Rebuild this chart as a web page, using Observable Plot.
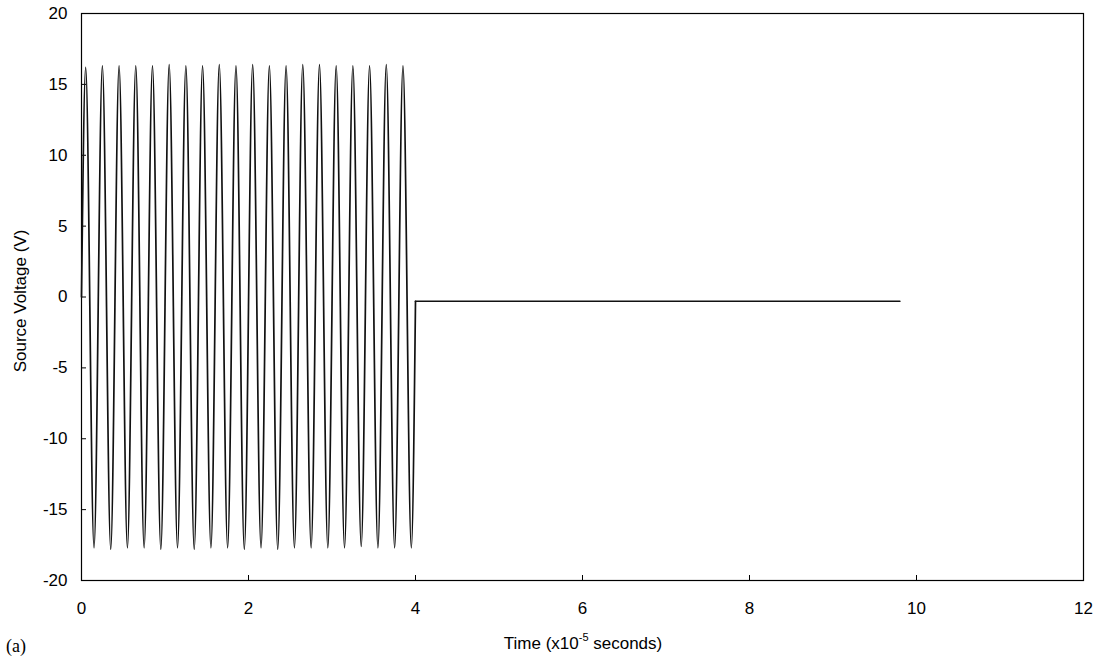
<!DOCTYPE html>
<html>
<head>
<meta charset="utf-8">
<script src="https://cdn.jsdelivr.net/npm/d3@7"></script>
<script src="https://cdn.jsdelivr.net/npm/@observablehq/plot@0.6"></script>
<style>
  body { margin: 0; background: #fff; }
  #wrap { position: relative; width: 1102px; height: 657px; font-family: "Liberation Sans", Arial, sans-serif; color: #000; }
  #xlabel { position: absolute; left: 0; width: 1166px; top: 630px; text-align: center; font-size: 17px; line-height: 17px; }
  #xlabel sup { font-size: 11px; position: relative; top: -1px; }
  #panel { position: absolute; left: 6px; top: 637px; font-family: "Liberation Serif", "Times New Roman", serif; font-size: 18px; line-height: 18px; }
</style>
</head>
<body>
<div id="wrap">
  <div id="chart"></div>
  <div id="xlabel">Time (x10<sup>-5</sup> seconds)</div>
  <div id="panel">(a)</div>
</div>
<script>
// Source voltage burst: 20 cycles of a 500 kHz sine, then the source settles near zero.
// Times in units of 1e-5 s, voltages in volts.
const peakTimes = [0.05, 0.25, 0.45, 0.65, 0.85, 1.05, 1.25, 1.45, 1.65, 1.85,
                   2.05, 2.25, 2.45, 2.65, 2.85, 3.05, 3.25, 3.45, 3.65, 3.85];
const peakVolts = [16.2, 16.3, 16.3, 16.3, 16.3, 16.4, 16.3, 16.3, 16.4, 16.3,
                   16.4, 16.3, 16.3, 16.4, 16.4, 16.3, 16.3, 16.3, 16.4, 16.3];
const troughTimes = [0.15, 0.35, 0.55, 0.75, 0.95, 1.15, 1.35, 1.55, 1.75, 1.95,
                     2.15, 2.35, 2.55, 2.75, 2.95, 3.15, 3.35, 3.55, 3.75, 3.95];
const troughVolts = [-17.7, -17.8, -17.7, -17.7, -17.8, -17.7, -17.8, -17.7, -17.7, -17.8,
                     -17.7, -17.8, -17.7, -17.7, -17.7, -17.7, -17.6, -17.7, -17.7, -17.7];
// start of the burst and the quiet tail after it
const startPoint = { t: 0, v: 0 };
const tailTimes = [4.0, 9.8];
const tailVolts = [-0.3, -0.3];

const xTicks = [0, 2, 4, 6, 8, 10, 12];
const yTicks = [-20, -15, -10, -5, 0, 5, 10, 15, 20];

// burst: start, alternating peaks and troughs, then the step onto the tail
const burst = [startPoint];
peakTimes.forEach((t, i) => {
  burst.push({ t, v: peakVolts[i] });
  burst.push({ t: troughTimes[i], v: troughVolts[i] });
});
burst.push({ t: tailTimes[0], v: tailVolts[0] });
const tail = tailTimes.map((t, i) => ({ t, v: tailVolts[i] }));

const plot = Plot.plot({
  width: 1102,
  height: 620,
  marginLeft: 81,
  marginRight: 19,
  marginTop: 13,
  marginBottom: 40,
  style: { fontFamily: "'Liberation Sans', Arial, sans-serif", fontSize: "17px", color: "#000", background: "#fff" },
  x: { domain: [0, 12] },
  y: { domain: [-20, 20] },
  marks: [
    Plot.frame({ stroke: "#000", strokeWidth: 1.2 }),
    Plot.axisX(xTicks, { tickSize: -5, tickPadding: 26, label: null, stroke: "#000", tickFormat: d => String(d) }),
    Plot.axisY(yTicks, { tickSize: -5, tickPadding: 19, label: null, stroke: "#000", tickFormat: d => String(d) }),
    Plot.text(["Source Voltage (V)"], {
      frameAnchor: "left", rotate: -90, dx: -61, dy: 4, text: d => d,
      fontSize: 17, textAnchor: "middle", lineAnchor: "middle", fill: "#000"
    }),
    Plot.line(burst, { x: "t", y: "v", curve: "monotone-x", stroke: "#111", strokeWidth: 1.7 }),
    Plot.line(tail, { x: "t", y: "v", stroke: "#111", strokeWidth: 1.7 })
  ]
});
document.getElementById("chart").append(plot);
</script>
</body>
</html>
